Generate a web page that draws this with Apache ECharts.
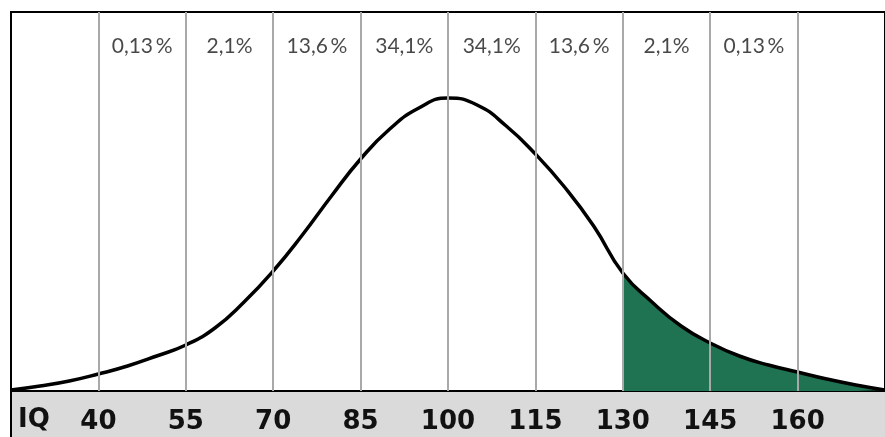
<!DOCTYPE html>
<html>
<head>
<meta charset="utf-8">
<script src="https://cdn.jsdelivr.net/npm/echarts@6/dist/echarts.min.js"></script>
<style>
  html, body { margin: 0; padding: 0; background: #fff; }
  #chart { width: 885px; height: 437px; }
</style>
</head>
<body>
<div id="chart"></div>
<script>
// IQ-Verteilung (stilisierte Glockenkurve), Werte alle 5 IQ-Punkte
var iqValues = [25, 30, 35, 40, 45, 50, 55, 60, 65, 70, 75, 80, 85, 90, 95, 100, 105, 110, 115, 120, 125, 130, 135, 140, 145, 150, 155, 160, 165, 170, 175];
var density  = [1, 5, 10, 17, 25, 35, 46, 63, 89, 120, 156, 195, 232, 262, 283, 293, 286, 265, 237, 204, 165, 118, 89, 65, 48, 35, 26, 19, 12, 6, 1];

var tickValues = [40, 55, 70, 85, 100, 115, 130, 145, 160];
var pctLabels = ['0,13\u2009%', '2,1%', '13,6\u2009%', '34,1%', '34,1%', '13,6\u2009%', '2,1%', '0,13\u2009%'];
var pctCenters = [47.5, 62.5, 77.5, 92.5, 107.5, 122.5, 137.5, 152.5];
var pctLevel = 345;
var shadeFrom = 130;

var curveData = [];
var tailData = [];
for (var i = 0; i < iqValues.length; i++) {
	curveData.push([iqValues[i], density[i]]);
	if (iqValues[i] >= shadeFrom) {
		tailData.push([iqValues[i], density[i]]);
	}
}
var labelData = [];
for (var j = 0; j < pctLabels.length; j++) {
	labelData.push({ value: [pctCenters[j], pctLevel], name: pctLabels[j] });
}

var chart = echarts.init(document.getElementById('chart'));
var option = {
	animation: false,
	grid: {
		left: 11,
		right: -2,
		top: 12,
		bottom: 46,
		show: true,
		borderColor: '#000',
		borderWidth: 2,
		backgroundColor: 'transparent'
	},
	graphic: [
		{
			type: 'rect',
			left: 11,
			bottom: 0,
			z: -10,
			shape: { width: 874, height: 45 },
			style: { fill: '#d9dad9' }
		},
		{
			type: 'line',
			z: 10,
			shape: { x1: 11, y1: 391, x2: 11, y2: 437 },
			style: { stroke: '#000', lineWidth: 2 }
		},
		{
			type: 'text',
			left: 18,
			top: 407,
			z: 10,
			style: {
				text: 'IQ',
				fill: '#111',
				font: 'bold 26px "DejaVu Sans"'
			}
		}
	],
	xAxis: {
		type: 'value',
		min: 25,
		max: 175,
		splitLine: { show: false },
		axisLine: { show: false },
		axisTick: { show: false },
		axisLabel: {
			customValues: tickValues,
			margin: 18,
			color: '#111',
			fontSize: 26,
			fontWeight: 'bold',
			fontFamily: 'DejaVu Sans'
		}
	},
	yAxis: {
		type: 'value',
		min: 0,
		max: 379,
		show: false
	},
	series: [
		{
			name: 'tail',
			type: 'line',
			data: tailData,
			smooth: 0.5,
			showSymbol: false,
			lineStyle: { width: 0 },
			areaStyle: { color: '#1f7352', opacity: 1 },
			z: 1,
			silent: true
		},
		{
			name: 'grid lines',
			type: 'line',
			data: [],
			z: 2,
			markLine: {
				silent: true,
				symbol: 'none',
				label: { show: false },
				lineStyle: { color: '#a9a9a9', width: 2, type: 'solid' },
				data: tickValues.map(function (v) { return { xAxis: v }; })
			}
		},
		{
			name: 'curve',
			type: 'line',
			data: curveData,
			smooth: 0.5,
			showSymbol: false,
			lineStyle: { color: '#000', width: 3.5 },
			z: 3
		},
		{
			name: 'pct',
			type: 'scatter',
			data: labelData,
			symbolSize: 0,
			silent: true,
			z: 4,
			label: {
				show: true,
				position: 'inside',
				formatter: function (p) { return p.name; },
				color: '#1a1a1a',
				fontSize: 21,
				fontFamily: 'Lato'
			}
		}
	]
};
chart.setOption(option);
</script>
</body>
</html>
